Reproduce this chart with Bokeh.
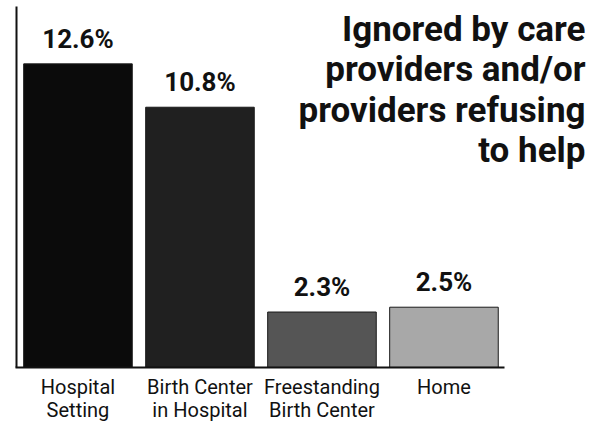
from bokeh.plotting import figure
from bokeh.models import ColumnDataSource, Range1d, FixedTicker, Label
from bokeh.core.properties import value
from bokeh.embed import file_html
from bokeh.resources import INLINE

categories = ["Hospital\nSetting", "Birth Center\nin Hospital", "Freestanding\nBirth Center", "Home"]
values = [12.6, 10.8, 2.3, 2.5]
value_labels = ["12.6%", "10.8%", "2.3%", "2.5%"]
bar_colors = ["#0b0b0b", "#202020", "#555555", "#a8a8a8"]
title_text = "Ignored by care\nproviders and/or\nproviders refusing\nto help"

xs = [1, 2, 3, 4]
src = ColumnDataSource(dict(x=xs, top=values, lab=value_labels, color=bar_colors))

FONT = "Roboto"

p = figure(width=595, height=425, output_backend="svg", toolbar_location=None,
           x_range=Range1d(0.365, 5.242), y_range=Range1d(-2.41, 15.23),
           min_border=0, min_border_left=0, min_border_right=0, min_border_top=0,
           min_border_bottom=0)
p.outline_line_color = None
p.grid.visible = False
p.background_fill_color = "white"

p.vbar(x="x", top="top", width=0.89, bottom=0, fill_color="color", line_color="#1a1a1a",
       line_width=1, source=src)
p.text(x="x", y="top", text="lab", source=src, text_align="center", text_baseline="bottom",
       y_offset=-10, text_font=value(FONT), text_font_style="bold", text_font_size="26px",
       text_color="#111111")

p.add_layout(Label(x=5.16, y=14.87, text=title_text, text_align="right", text_baseline="top",
                   text_font=FONT, text_font_style="bold", text_font_size="35px",
                   text_line_height=0.98, text_color="#111111"))

xa = p.xaxis[0]
xa.fixed_location = 0
xa.ticker = FixedTicker(ticks=xs)
xa.major_label_overrides = {x: c for x, c in zip(xs, categories)}
xa.bounds = (0.488, 4.5)
xa.major_tick_line_color = None
xa.minor_tick_line_color = None
xa.major_tick_out = 0
xa.major_tick_in = 0
xa.axis_line_width = 2
xa.axis_line_color = "#111111"
xa.major_label_text_font = FONT
xa.major_label_text_font_size = "20px"
xa.major_label_text_line_height = 0.94
xa.major_label_text_color = "#111111"
xa.major_label_standoff = 8

ya = p.yaxis[0]
ya.fixed_location = 0.5
ya.bounds = (0, 15.0)
ya.ticker = FixedTicker(ticks=[])
ya.major_tick_line_color = None
ya.minor_tick_line_color = None
ya.axis_line_width = 2
ya.axis_line_color = "#111111"

open("out.html", "w").write(file_html(p, INLINE))
